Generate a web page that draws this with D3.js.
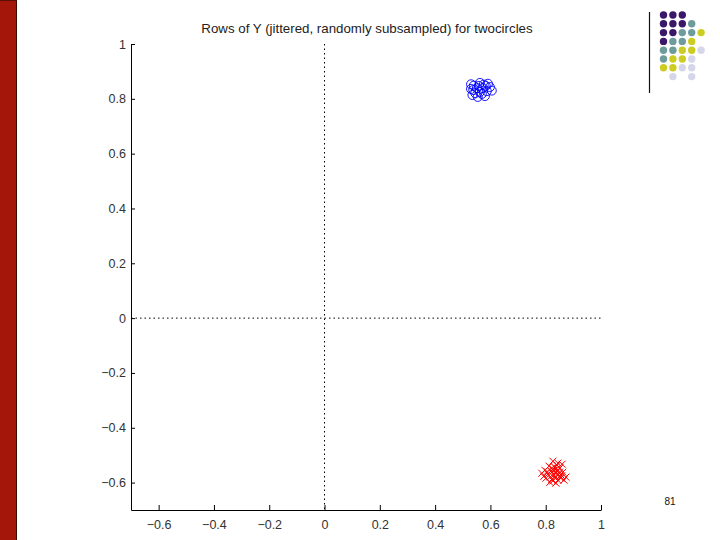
<!DOCTYPE html>
<html>
<head>
<meta charset="utf-8">
<script src="https://cdn.jsdelivr.net/npm/d3@7"></script>
<style>
  body { margin: 0; background: #fff; }
  svg { display: block; font-family: "Liberation Sans", Arial, sans-serif; }
  .tick text { fill: #333; font-size: 12.5px; }
</style>
</head>
<body>
<div id="chart"></div>
<script>
// blue circles (cluster 1)
const blueX = [0.530, 0.540, 0.562, 0.576, 0.591, 0.605, 0.535, 0.554, 0.580, 0.551,
               0.572, 0.538, 0.562, 0.587, 0.545, 0.569, 0.558, 0.598, 0.530, 0.583];
const blueY = [0.853, 0.848, 0.858, 0.852, 0.855, 0.830, 0.814, 0.807, 0.810, 0.839,
               0.839, 0.832, 0.825, 0.828, 0.821, 0.818, 0.847, 0.843, 0.836, 0.847];

// red crosses (cluster 2)
const redX = [0.826, 0.844, 0.859, 0.812, 0.833, 0.851, 0.797, 0.819, 0.841, 0.862,
              0.786, 0.808, 0.830, 0.851, 0.873, 0.801, 0.822, 0.844, 0.866, 0.815,
              0.837, 0.855, 0.793, 0.841, 0.822, 0.828, 0.836, 0.846, 0.817, 0.826,
              0.850, 0.833, 0.805, 0.858, 0.839];
const redY = [-0.522, -0.529, -0.533, -0.540, -0.544, -0.547, -0.555, -0.558, -0.558, -0.562,
              -0.566, -0.569, -0.573, -0.577, -0.580, -0.584, -0.588, -0.591, -0.591, -0.599,
              -0.602, -0.584, -0.577, -0.537, -0.547, -0.556, -0.566, -0.571, -0.579, -0.594,
              -0.562, -0.582, -0.560, -0.575, -0.550];

const xTicks = [-0.6, -0.4, -0.2, 0, 0.2, 0.4, 0.6, 0.8, 1];
const yTicks = [-0.6, -0.4, -0.2, 0, 0.2, 0.4, 0.6, 0.8, 1];

const titleText = 'Rows of Y (jittered, randomly subsampled) for twocircles';
const pageNumber = '81';

// decoration grid in the top right corner, one string per row
const gridRows = ['PPP', 'PPPT', 'PPTTY', 'PTTY', 'TTYYL', 'TYYL', 'YYLL', '.L.L'];
const gridColors = { P: '#3b1769', T: '#6e9c9c', Y: '#cccc22', L: '#d6d6ea' };

const width = 720, height = 540;
const margin = { top: 44, right: 119, bottom: 30, left: 131 };

const svg = d3.select('#chart').append('svg')
    .attr('width', width)
    .attr('height', height);

// slide frame: red bar on the left
svg.append('rect')
    .attr('x', 0).attr('y', 0)
    .attr('width', 16).attr('height', height)
    .attr('fill', '#a4160a');
svg.append('line')
    .attr('x1', 16.5).attr('x2', 16.5)
    .attr('y1', 0).attr('y2', height)
    .attr('stroke', '#3a0a05');
svg.append('line')
    .attr('x1', 0).attr('x2', 17)
    .attr('y1', 0.5).attr('y2', 0.5)
    .attr('stroke', '#5a1008');

// dots decoration
const deco = svg.append('g');
deco.append('line')
    .attr('x1', 649.5).attr('x2', 649.5)
    .attr('y1', 12).attr('y2', 93)
    .attr('stroke', '#111')
    .attr('stroke-width', 1.2);
gridRows.forEach((row, r) => {
  row.split('').forEach((c, i) => {
    if (!gridColors[c]) return;
    deco.append('circle')
        .attr('cx', 663.5 + i * 9.4)
        .attr('cy', 15 + r * 8.8)
        .attr('r', 3.7)
        .attr('fill', gridColors[c]);
  });
});

// scales
const x = d3.scaleLinear().domain([-0.7, 1]).range([margin.left, width - margin.right]);
const y = d3.scaleLinear().domain([-0.7, 1]).range([height - margin.bottom, margin.top]);

const fmt = d => d === 0 ? '0' : (d === 1 ? '1' : d3.format('.1f')(d).replace('-', '\u2212'));

// axes with inward ticks
const xAxis = svg.append('g')
    .attr('transform', `translate(0,${y(-0.7)})`)
    .call(d3.axisBottom(x).tickValues(xTicks).tickFormat(fmt).tickSizeInner(-5).tickSizeOuter(0).tickPadding(10));
xAxis.select('.domain').attr('stroke', '#000');
xAxis.selectAll('.tick line').attr('stroke', '#000');

const yAxis = svg.append('g')
    .attr('transform', `translate(${x(-0.7)},0)`)
    .call(d3.axisLeft(y).tickValues(yTicks).tickFormat(fmt).tickSizeInner(-4).tickSizeOuter(0).tickPadding(5));
yAxis.select('.domain').attr('stroke', '#000');
yAxis.selectAll('.tick line').attr('stroke', '#000');

// dotted zero lines
svg.append('line')
    .attr('x1', x(-0.7)).attr('x2', x(1))
    .attr('y1', y(0)).attr('y2', y(0))
    .attr('stroke', '#000')
    .attr('stroke-dasharray', '1.5,3');
svg.append('line')
    .attr('x1', x(0)).attr('x2', x(0))
    .attr('y1', y(1)).attr('y2', y(-0.7))
    .attr('stroke', '#000')
    .attr('stroke-dasharray', '1.5,3');

// blue circles
svg.append('g').selectAll('circle')
    .data(d3.zip(blueX, blueY))
    .join('circle')
    .attr('cx', d => x(d[0]))
    .attr('cy', d => y(d[1]))
    .attr('r', 4.5)
    .attr('fill', 'none')
    .attr('stroke', '#0000ff')
    .attr('stroke-width', 0.9);

// red crosses
const s = 3.5;
svg.append('g').selectAll('path')
    .data(d3.zip(redX, redY))
    .join('path')
    .attr('d', d => {
      const cx = x(d[0]), cy = y(d[1]);
      return `M${cx - s},${cy - s}L${cx + s},${cy + s}M${cx - s},${cy + s}L${cx + s},${cy - s}`;
    })
    .attr('stroke', '#ff0000')
    .attr('stroke-width', 1);

// title
svg.append('text')
    .attr('x', 367).attr('y', 33)
    .attr('text-anchor', 'middle')
    .attr('font-size', 13.3)
    .attr('fill', '#222')
    .text(titleText);

// page number
svg.append('text')
    .attr('x', 670).attr('y', 505)
    .attr('text-anchor', 'middle')
    .attr('font-size', 10)
    .attr('fill', '#111')
    .text(pageNumber);
</script>
</body>
</html>
